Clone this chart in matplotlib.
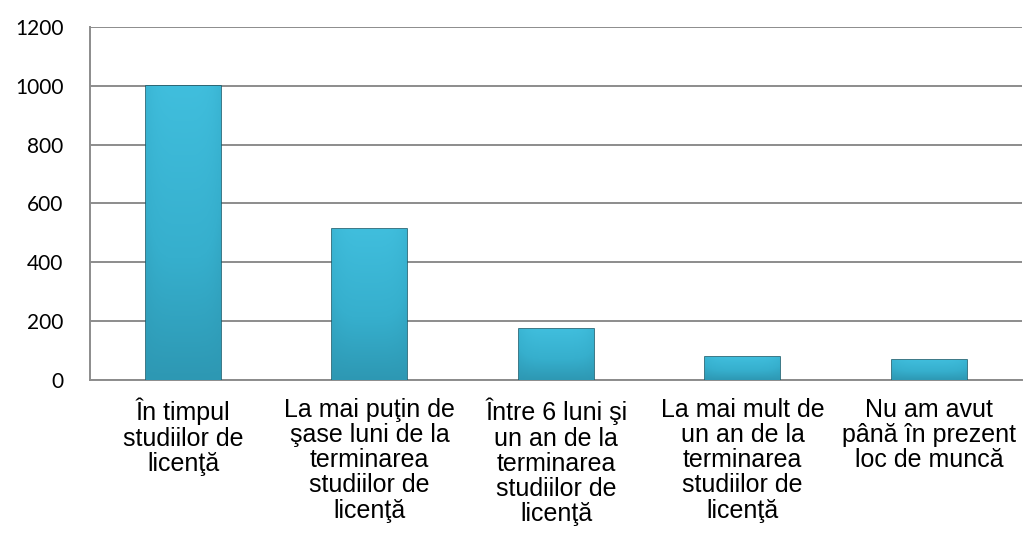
import matplotlib
matplotlib.use("Agg")
import matplotlib.pyplot as plt
import numpy as np
from matplotlib.colors import LinearSegmentedColormap

categories = [
    "În timpul\nstudiilor de\nlicenţă",
    "La mai puţin de\nşase luni de la\nterminarea\nstudiilor de\nlicenţă",
    "Între 6 luni şi\nun an de la\nterminarea\nstudiilor de\nlicenţă",
    "La mai mult de\nun an de la\nterminarea\nstudiilor de\nlicenţă",
    "Nu am avut\npână în prezent\nloc de muncă",
]
values = [1000, 513, 172, 78, 68]
yticks = [0, 200, 400, 600, 800, 1000, 1200]

fig = plt.figure(figsize=(10.27, 5.49), dpi=100)
ax = fig.add_axes([0.0876, 0.308, 0.908, 0.643])

x = np.arange(len(values))
bars = ax.bar(x, values, width=0.4, color="#33AECB", edgecolor="#1A6172",
              linewidth=1.2, zorder=3)

# soft gradient inside each bar (darker towards the sides, lighter on top)
cmap = LinearSegmentedColormap.from_list("bar", ["#2A8EA8", "#36AFCD", "#40BEDD"])
gy = np.linspace(0, 1, 256).reshape(-1, 1)
gx = 1 - 0.35 * np.abs(np.linspace(-1, 1, 64)).reshape(1, -1) ** 4
grad = 0.15 + 0.85 * gy * gx
for b in bars:
    bx, by = b.get_x(), b.get_y()
    im = ax.imshow(grad, extent=[bx, bx + b.get_width(), by, by + b.get_height()],
                   cmap=cmap, vmin=0, vmax=1, aspect="auto", origin="lower",
                   zorder=3.5)
    im.set_clip_path(b)

ax.set_xlim(-0.5, len(values) - 0.5)
ax.set_ylim(0, 1200)
ax.set_yticks(yticks)
ax.set_yticklabels([str(t) for t in yticks], fontsize=15, family="Lato")
ax.set_xticks(x)
ax.set_xticklabels(categories, fontsize=18, family="Liberation Sans",
                   linespacing=1.06)
ax.tick_params(axis="both", length=0, colors="black")
ax.tick_params(axis="y", pad=19)
ax.tick_params(axis="x", pad=13)

ax.grid(axis="y", color="#8C8C8C", linewidth=1.4, zorder=0)
ax.set_axisbelow(True)
for s in ["top", "right"]:
    ax.spines[s].set_visible(False)
for s in ["left", "bottom"]:
    ax.spines[s].set_color("#8C8C8C")
    ax.spines[s].set_linewidth(1.4)

fig.savefig("out.png", dpi=100)
